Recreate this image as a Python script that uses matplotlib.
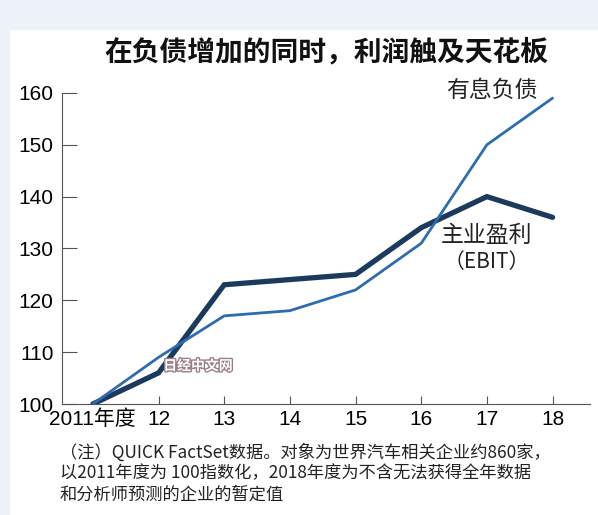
import matplotlib.pyplot as plt
import matplotlib.patheffects as pe

plt.rcParams['font.family'] = ['Noto Sans CJK SC', 'DejaVu Sans']

# data (index, FY2011 = 100)
years = [2011, 2012, 2013, 2014, 2015, 2016, 2017, 2018]
year_labels = ["2011年度", "12", "13", "14", "15", "16", "17", "18"]
debt = [100, 109, 117, 118, 122, 131, 150, 159]
ebit = [100, 106, 123, 124, 125, 134, 140, 136]
y_ticks = [100, 110, 120, 130, 140, 150, 160]

fig = plt.figure(figsize=(5.98, 5.15), dpi=100)
fig.patch.set_facecolor("#edf1f8")
# white panel
panel = plt.Rectangle((10 / 598, 0), 1, 1 - 30 / 515, transform=fig.transFigure,
                      facecolor="white", edgecolor="none", zorder=-10)
fig.patches.append(panel)

ax = fig.add_axes([62 / 598, (515 - 404) / 515, (590 - 62) / 598, (404 - 67) / 515])
ax.set_facecolor("none")

ax.plot(years, debt, color="#2d6cb3", lw=2.0, solid_capstyle="round", zorder=3)
ax.plot(years, ebit, color="#1b3a5e", lw=3.8, solid_capstyle="round",
        solid_joinstyle="miter", zorder=2)

ax.set_xlim(2010.53, 2018.57)
ax.set_ylim(100, 165)

for s in ["top", "right"]:
    ax.spines[s].set_visible(False)
ax.spines["left"].set_bounds(100, 160)
ax.spines["left"].set_color("#555555")
ax.spines["bottom"].set_color("#555555")

ax.set_yticks(y_ticks)
ax.set_yticklabels([str(v) for v in y_ticks], fontsize=15,
                   family=['Liberation Sans', 'DejaVu Sans'])
ax.tick_params(axis="y", direction="in", length=11, color="#555555", pad=6)
ax.set_xticks(years)
ax.set_xticklabels(year_labels, fontsize=15,
                   family=['Liberation Sans', 'Noto Sans CJK SC'])
ax.tick_params(axis="x", direction="in", length=6, color="#555555", pad=4)
ax.xaxis.get_major_ticks()[0].tick1line.set_visible(False)

fig.text(0.545, 1 - 52 / 515, "在负债增加的同时，利润触及天花板", ha="center", va="center",
         fontsize=20, fontweight="bold", color="#111111")

ax.text(2017.07, 160.4, "有息负债", ha="center", va="center", fontsize=16.5, color="#222222")
ax.text(2017.0, 132.5, "主业盈利", ha="center", va="center", fontsize=16.5, color="#222222")
ax.text(2017.0, 127.3, "（EBIT）", ha="center", va="center", fontsize=15, color="#222222")

# watermark
ax.text(2012.6, 107.3, "日经中文网", ha="center", va="center", fontsize=10,
        color="#ffffff", fontweight="bold", zorder=5,
        path_effects=[pe.withStroke(linewidth=2, foreground="#9a7f86")])

note = ("（注）QUICK FactSet数据。对象为世界汽车相关企业约860家，\n"
        "以2011年度为 100指数化，2018年度为不含无法获得全年数据\n"
        "和分析师预测的企业的暂定值")
fig.text(60 / 598, 1 - 443 / 515, note, ha="left", va="top", fontsize=12.4,
         linespacing=1.22, color="#222222")

fig.savefig("out.png", dpi=100, facecolor=fig.get_facecolor())
